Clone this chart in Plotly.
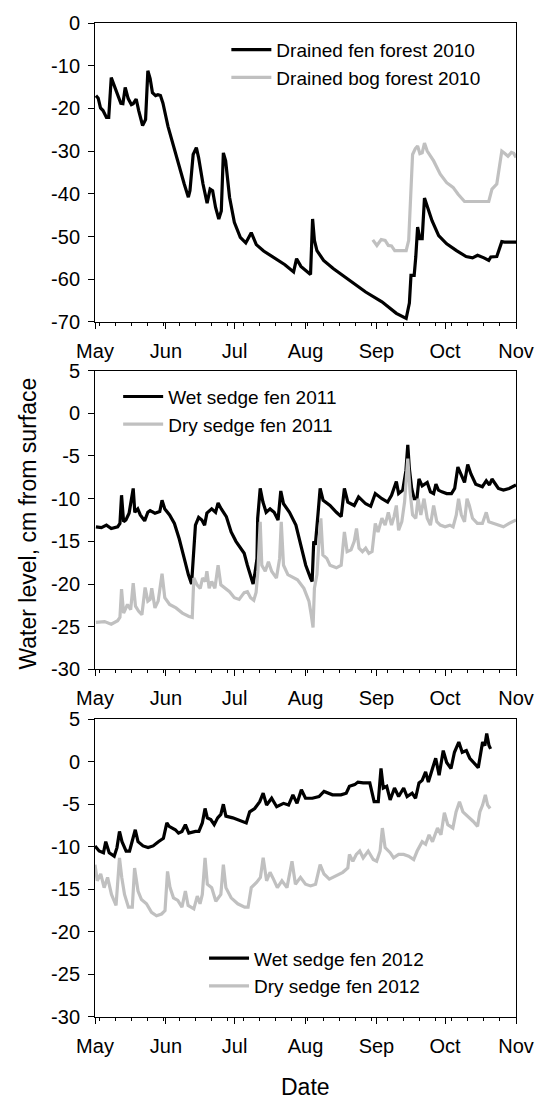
import pandas as pd
import plotly.graph_objects as go

# days after May 1 and water level (cm from surface)
fen10_day = [0.4, 1.4, 2.4, 3.5, 5, 6, 7.1, 8.5, 9.9, 11.3, 12.2, 13.2, 14.5, 15.9, 16.7, 18, 19.1, 20.8,
             22.1, 23.1, 24.1, 25.1, 26.5, 27.5, 28.6, 29.7, 31.9, 34, 36.8, 39, 40.8, 41.5, 42.9, 44.3,
             45.3, 47.2, 49, 50.3, 51.4, 52.7, 54.1, 55.2, 56.1, 57.1, 58.8, 60.9, 63.5, 65.9, 68.3, 70.5,
             73.7, 79.3, 83, 86.8, 88.1, 90, 92.1, 94.2, 95.1, 95.9, 97, 99.9, 104.1, 111.2, 118.3, 125.4,
             131.7, 136, 137.4, 138.1, 139.5, 140.2, 141, 142, 143, 144, 145.2, 147.3, 150.2, 153.7, 158,
             162.2, 165, 167.2, 170, 172.1, 173, 175.6, 177.8, 179, 184]
fen10_wl = [-17.0, -17.6, -19.9, -20.5, -22.1, -22.1, -12.8, -14.7, -16.8, -18.8, -18.9, -15.1, -17.7,
            -19.1, -18.9, -17.8, -20.5, -24.0, -22.6, -11.2, -13.0, -16.3, -17.0, -16.8, -17.0, -18.8,
            -24.2, -28.4, -33.9, -37.7, -40.8, -39.3, -30.8, -29.2, -31.6, -37.7, -42.2, -38.9, -39.3,
            -43.2, -45.9, -44.0, -30.4, -32.3, -40.8, -46.7, -50.2, -51.5, -49.1, -51.9, -53.4, -55.2,
            -56.6, -58.3, -55.2, -57.0, -57.9, -58.9, -45.9, -50.9, -53.3, -55.6, -57.5, -60.2, -63.0,
            -65.3, -68.0, -69.2, -65.6, -59.1, -59.1, -54.8, -47.8, -50.5, -50.5, -41.0, -42.8, -46.3,
            -49.8, -51.7, -53.3, -54.7, -55.0, -54.4, -55.0, -55.6, -54.8, -54.7, -51.2, -51.3, -51.3]

bog10_day = [121.4, 123.2, 125.1, 126.8, 128.2, 129.6, 131, 136, 137.1, 138.1, 138.8, 140, 141, 142, 143,
             144, 145.2, 148, 150.9, 153.7, 156.5, 158.7, 161.5, 172.1, 173.5, 175.6, 176.8, 177.8, 179,
             180.5, 182, 183, 184]
bog10_wl = [-50.8, -52.1, -50.7, -50.9, -52.1, -52.2, -53.3, -53.3, -50.9, -37.7, -30.8, -29.4, -28.8,
            -30.6, -30.4, -28.1, -30.0, -32.3, -35.4, -37.4, -38.5, -40.1, -41.8, -41.8, -38.9, -37.7,
            -33.9, -30.0, -30.5, -31.2, -30.3, -30.5, -31.5]

wet11_day = [0.4, 2.8, 5, 7.1, 9.9, 10.9, 11.6, 12.5, 13.5, 14.9, 16.7, 17.4, 18.7, 19.8, 21.7, 23.1, 24.1,
             26.2, 28.3, 29.3, 30.5, 32.6, 34.7, 36.8, 39, 40.8, 42.2, 43.2, 43.9, 45.3, 46.7, 47.9, 48.9,
             51, 52.7, 53.8, 55.2, 57.4, 59.5, 61.6, 63.7, 65.2, 66.6, 67.7, 69.1, 69.8, 70.8, 71.1, 72.2,
             73.4, 74.8, 76.5, 78.3, 80, 81.2, 82.4, 85, 87.8, 90, 92.1, 94.2, 94.9, 95.6, 96.3, 97.5, 98.4,
             99.7, 102.7, 105.5, 107.6, 109, 110.5, 113.3, 115.2, 118.3, 120.5, 122.5, 125.4, 127.9, 129.6,
             131.7, 132.7, 134.5, 135.9, 136.7, 137.4, 138.4, 139.5, 140.7, 141.6, 143, 145.2, 146.6, 148,
             149, 150.1, 151.6, 153.7, 155.8, 157.2, 158.6, 160.1, 161.5, 162.9, 164.3, 166.4, 169.3, 171,
             172.4, 173.5, 174.9, 176.3, 178.5, 181, 184]
wet11_wl = [-13.3, -13.4, -13.1, -13.5, -13.3, -12.9, -9.6, -12.7, -12.5, -11.7, -8.8, -11.6, -11.2, -11.9,
            -12.6, -11.6, -11.4, -11.7, -11.5, -10.2, -11.2, -11.9, -12.9, -14.7, -17.0, -18.9, -20.0,
            -15.0, -13.1, -12.2, -12.5, -13.1, -11.7, -11.2, -11.6, -10.5, -11.2, -12.1, -13.9, -15.0,
            -15.8, -16.4, -17.8, -18.7, -20.0, -18.9, -17.0, -12.3, -8.8, -10.4, -11.6, -11.2, -11.6,
            -12.5, -9.1, -10.6, -11.6, -13.1, -15.4, -17.8, -19.3, -19.7, -15.0, -15.4, -11.7, -8.8,
            -10.2, -10.8, -11.6, -12.1, -8.8, -10.4, -10.8, -9.8, -10.6, -10.9, -9.4, -10.0, -10.4, -9.6,
            -8.0, -9.4, -9.0, -6.7, -3.7, -6.5, -8.8, -10.0, -10.0, -7.7, -8.5, -8.1, -9.2, -9.4, -8.3,
            -9.0, -9.2, -9.4, -9.4, -8.8, -6.3, -7.3, -8.1, -6.0, -7.1, -8.3, -8.6, -7.9, -8.4, -7.7,
            -8.3, -8.8, -9.0, -8.8, -8.4]

dry11_day = [0.4, 4.2, 7.1, 9.9, 10.9, 11.6, 12.5, 14.2, 15.6, 16.7, 17.7, 19.1, 20.5, 21.9, 23.1, 24.1,
             24.8, 26.2, 27.6, 29.3, 30.5, 32.6, 35.4, 38.2, 41.1, 42.5, 43.2, 44.6, 46, 47, 48.2, 48.9,
             49.9, 51, 52.4, 53.8, 55, 56.7, 58.8, 60.9, 63, 65.2, 66.6, 68, 69.4, 70.4, 71.2, 72.2, 72.9,
             74.4, 75.8, 77.2, 79.3, 80.7, 81.4, 82.4, 84.3, 85.7, 88.5, 91.3, 93.5, 94.5, 95.3, 95.9, 97,
             97.7, 98.7, 99.6, 101.3, 102.7, 105.5, 107.6, 109, 110.2, 111.9, 113.3, 114.3, 115.4, 116.9,
             118.3, 119.7, 121.1, 122.5, 123.7, 125.4, 126.8, 128.2, 129.6, 130.7, 131.7, 132.7, 134.1,
             135.3, 136.7, 137.7, 138.8, 140.2, 141.2, 142.4, 143.8, 145.2, 146.6, 148, 149.4, 150.9, 153,
             155.1, 156.5, 157.9, 158.9, 160.1, 161.5, 162.6, 163.6, 165, 167.1, 169.3, 171, 172.1, 174.3,
             176.3, 178.5, 181, 184]
dry11_wl = [-24.5, -24.4, -24.7, -24.3, -23.9, -20.6, -23.4, -22.4, -23.0, -19.9, -22.6, -23.2, -23.6,
            -20.4, -22.0, -21.8, -20.5, -22.8, -22.0, -18.8, -21.6, -22.4, -22.8, -23.4, -23.8, -23.9,
            -19.3, -20.1, -20.5, -19.3, -19.7, -18.5, -20.5, -19.7, -20.5, -17.8, -20.1, -20.5, -20.9,
            -21.6, -21.8, -21.0, -20.9, -21.6, -21.9, -21.0, -18.5, -12.7, -17.8, -18.5, -17.4, -18.5,
            -19.3, -17.0, -12.7, -17.8, -18.9, -19.1, -19.5, -20.5, -22.0, -23.6, -25.1, -20.5, -18.9,
            -15.8, -12.3, -16.6, -17.0, -17.8, -18.1, -17.8, -13.9, -16.2, -16.0, -15.0, -13.5, -15.8,
            -16.2, -15.8, -16.4, -16.2, -12.9, -13.9, -12.3, -13.1, -11.6, -13.1, -12.1, -10.8, -13.7,
            -12.7, -10.4, -5.3, -9.2, -11.9, -12.3, -10.0, -11.9, -10.0, -12.3, -13.1, -10.8, -12.7,
            -13.1, -13.3, -13.1, -13.3, -11.9, -10.0, -11.9, -12.7, -10.0, -10.8, -12.3, -12.9, -12.9,
            -11.6, -12.7, -12.9, -13.1, -13.3, -12.9, -12.5]

wet12_day = [0, 1.8, 3.7, 4.7, 6.2, 8.4, 9.6, 10.7, 11.8, 13.6, 15.1, 16.6, 17.6, 18.8, 21, 23.2, 25.4,
             27.7, 29.9, 31.4, 32.4, 35.1, 36.5, 38, 39.5, 41, 43.9, 45.4, 46.9, 48.1, 49.1, 50.6, 52.1,
             53.6, 55, 56.1, 57.2, 60.2, 63.2, 66.1, 67.6, 69.8, 72, 73.5, 75, 77.2, 79.4, 82.4, 84.6, 86.5,
             88.3, 90.2, 92, 95, 97.9, 100.1, 103.8, 107.5, 109.8, 111.2, 113.5, 114.9, 117.2, 120.1, 122,
             123.8, 125, 126, 127.5, 129, 130.9, 132.7, 134.9, 136.4, 138.6, 140.1, 141.6, 143, 144.5,
             145.7, 147.5, 148.9, 150.4, 152.2, 153.7, 155.6, 157.1, 159, 160.5, 162.3, 163.8, 165.5,
             167.5, 168.2, 169.4, 170.4, 171.2, 172.2, 172.9]
wet12_wl = [-9.9, -10.5, -10.7, -9.4, -10.7, -11.1, -10.1, -8.2, -9.4, -10.5, -10.5, -9.0, -8.0, -9.4,
            -9.9, -10.1, -9.9, -9.4, -9.0, -7.2, -7.6, -8.0, -8.4, -8.2, -7.4, -8.4, -8.2, -8.2, -7.2,
            -5.5, -6.6, -6.8, -7.4, -6.6, -6.2, -5.0, -6.4, -6.6, -6.9, -7.2, -5.9, -5.5, -4.7, -3.7,
            -5.1, -4.3, -5.3, -4.9, -5.1, -3.9, -4.9, -3.3, -4.3, -4.3, -4.1, -3.5, -3.9, -3.9, -3.7,
            -2.9, -2.7, -2.4, -2.5, -2.5, -4.7, -4.7, -0.8, -3.1, -2.9, -4.5, -3.1, -4.1, -3.1, -4.1,
            -3.7, -4.3, -2.5, -2.2, -1.2, -2.4, -0.8, 0.4, -1.6, 1.3, -0.1, -0.8, 1.1, 2.3, 1.1, 1.3,
            0.4, -0.1, -0.7, 0.4, 2.3, 1.9, 3.3, 1.9, 1.5]

dry12_day = [0, 1, 2.5, 4, 5.5, 7.2, 9.2, 10.7, 11.7, 12.9, 14.6, 16.3, 17.3, 18.8, 20.3, 22.5, 24.7, 26.9,
             29.1, 30.6, 31.7, 32.8, 34.3, 36.2, 38, 39.5, 40.7, 43.2, 44.7, 45.9, 46.9, 48.1, 49.1, 51,
             52.8, 55, 56.1, 57.2, 59.5, 62.4, 65.4, 66.9, 68.3, 70.6, 72.3, 73.5, 75, 76.5, 78, 79.7,
             81.7, 83.9, 86.1, 87.6, 89.8, 92, 94.2, 96.4, 98.4, 100.1, 102.4, 105.3, 108.3, 110.5, 111.2,
             112.7, 114.2, 115.7, 117.2, 119.4, 121.6, 123.1, 124.6, 125.6, 126.8, 129, 130.5, 132.7,
             134.9, 137.1, 139.3, 140.8, 143, 144.5, 146, 147.5, 149.7, 151.2, 152.7, 154.2, 156.4, 157.8,
             159.3, 160.8, 163, 165.2, 167.2, 168.2, 169.4, 170.6, 171.6, 172.7]
dry12_wl = [-12.1, -14.0, -13.2, -14.8, -13.6, -15.6, -16.9, -11.3, -13.6, -15.6, -17.1, -17.1, -12.5,
            -15.2, -16.2, -16.7, -17.7, -18.1, -17.9, -17.5, -12.9, -14.8, -16.0, -16.3, -17.1, -15.2,
            -16.9, -17.3, -15.8, -16.7, -15.6, -11.3, -14.4, -14.8, -16.4, -15.6, -12.1, -14.8, -16.0,
            -16.7, -17.1, -17.1, -14.8, -14.2, -13.6, -11.3, -14.0, -13.0, -13.8, -14.8, -14.0, -14.8,
            -11.7, -14.4, -13.6, -14.4, -14.6, -14.4, -12.1, -13.2, -13.8, -13.4, -13.0, -12.5, -10.9,
            -11.7, -10.9, -10.5, -11.3, -10.5, -11.5, -11.7, -10.5, -7.8, -10.1, -10.7, -11.3, -10.9,
            -10.9, -11.1, -11.5, -10.5, -9.4, -9.7, -8.6, -9.4, -7.8, -8.6, -6.0, -7.4, -7.8, -5.9, -4.7,
            -5.9, -6.4, -7.0, -7.6, -5.9, -5.1, -3.9, -5.1, -5.5]

months = ["May", "Jun", "Jul", "Aug", "Sep", "Oct", "Nov"]


def to_dates(year, days):
    return pd.Timestamp(f"{year}-05-01") + pd.to_timedelta(days, unit="D")


BLACK = "black"
GREY = "#c0c0c0"
FONT = "Arial, Liberation Sans, sans-serif"

panels = [
    # (year, y min, y max, y step, traces, legend x / y-middle)
    (2010, -70, 0, 10, [("Drained fen forest 2010", fen10_day, fen10_wl, BLACK),
                        ("Drained bog forest 2010", bog10_day, bog10_wl, GREY)], (0.312, 0.959)),
    (2011, -30, 5, 5, [("Wet sedge fen 2011", wet11_day, wet11_wl, BLACK),
                       ("Dry sedge fen 2011", dry11_day, dry11_wl, GREY)], (0.055, 0.61)),
    (2012, -30, 5, 5, [("Wet sedge fen 2012", wet12_day, wet12_wl, BLACK),
                       ("Dry sedge fen 2012", dry12_day, dry12_wl, GREY)], (0.259, 0.045)),
]
domains = [[0.6993, 1.0], [0.3497, 0.6503], [0.0, 0.2997]]

fig = go.Figure()
layout = {}
for i, (year, ylo, yhi, step, traces, legpos) in enumerate(panels):
    n = "" if i == 0 else str(i + 1)
    leg = "legend" + n
    for name, d, wl, col in traces:
        fig.add_trace(go.Scatter(
            x=to_dates(year, d), y=wl, mode="lines", name=name,
            line=dict(color=col, width=3.2), xaxis="x" + n, yaxis="y" + n, legend=leg,
        ))
    tickv = list(range(ylo, yhi + 1, step))
    layout["xaxis" + n] = dict(
        domain=[0, 1], anchor="y" + n,
        range=[f"{year}-05-01", f"{year}-11-01"],
        tickvals=[f"{year}-{m:02d}-01" for m in range(5, 12)], ticktext=months,
        ticks="outside", ticklen=6, tickcolor="black", showgrid=False, zeroline=False,
        showline=True, linecolor="black", linewidth=1, mirror=True,
        ticklabelstandoff=5, tickfont=dict(size=20, color="black"),
        minor=dict(ticks="outside", ticklen=3, tickcolor="black", dtick=7 * 86400000,
                   tick0=f"{year}-05-03", showgrid=False),
    )
    layout["yaxis" + n] = dict(
        domain=domains[i], anchor="x" + n, range=[ylo, yhi],
        tickvals=tickv, ticktext=[str(v) for v in tickv],
        ticks="outside", ticklen=6, tickcolor="black", showgrid=False, zeroline=False,
        showline=True, linecolor="black", linewidth=1, mirror=True,
        ticklabelstandoff=4, tickfont=dict(size=20, color="black"),
    )
    layout[leg] = dict(x=legpos[0], y=legpos[1], xanchor="left", yanchor="middle",
                       bgcolor="rgba(0,0,0,0)", font=dict(size=19, color="black"),
                       tracegroupgap=0, itemwidth=40)

fig.update_layout(**layout)
fig.update_layout(
    width=546, height=1099,
    margin=dict(l=95, r=18, t=16, b=82),
    paper_bgcolor="white", plot_bgcolor="white",
    font=dict(family=FONT, size=19, color="black"),
    showlegend=True,
)
fig.add_annotation(text="Water level, cm from surface", xref="paper", yref="paper",
                   x=-0.159, y=0.4965, xanchor="center", yanchor="middle", textangle=-90,
                   showarrow=False, font=dict(size=23, color="black"))
fig.add_annotation(text="Date", xref="paper", yref="paper", x=0.499, y=-0.07,
                   xanchor="center", yanchor="middle", showarrow=False,
                   font=dict(size=23, color="black"))

# page body has an 8px default margin; drop it so the figure sits at the corner
fig.write_html("out.html", config={"displayModeBar": False},
               post_script="document.body.style.margin='0';document.body.style.overflow='hidden';")
